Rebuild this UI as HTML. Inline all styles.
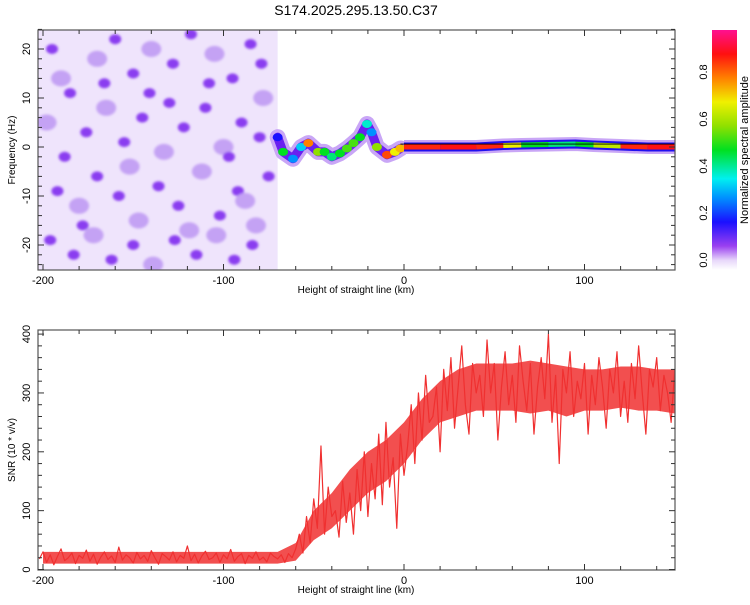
<!DOCTYPE html>
<html><head><meta charset="utf-8"><style>
body{margin:0;background:#fff;}
svg{font-family:"Liberation Sans",sans-serif;}
</style></head><body>
<svg id="chart" width="750" height="600" xmlns="http://www.w3.org/2000/svg">
<defs>
<linearGradient id="cbar" x1="0" y1="1" x2="0" y2="0">
<stop offset="0" stop-color="#ffffff"/><stop offset="0.04" stop-color="#e8d8fa"/><stop offset="0.1" stop-color="#9a40f0"/>
<stop offset="0.2" stop-color="#1a10ff"/><stop offset="0.3" stop-color="#0090ff"/><stop offset="0.38" stop-color="#00f0f0"/>
<stop offset="0.5" stop-color="#00e020"/><stop offset="0.6" stop-color="#90e000"/><stop offset="0.7" stop-color="#f0f000"/>
<stop offset="0.8" stop-color="#ff8000"/><stop offset="0.9" stop-color="#ff1010"/><stop offset="1" stop-color="#ff1090"/>
</linearGradient>
<clipPath id="clipTop"><rect x="38" y="30" width="637" height="240"/></clipPath>
<clipPath id="clipBot"><rect x="38" y="330" width="637" height="240"/></clipPath>
<filter id="blur" x="-20%" y="-20%" width="140%" height="140%"><feGaussianBlur stdDeviation="1.2"/></filter>
</defs>
<text x="356" y="15" text-anchor="middle" font-size="14">S174.2025.295.13.50.C37</text>
<g id="top"></g>
<g id="bot"></g>
<g id="cb">
<rect x="712" y="30" width="25" height="240" fill="url(#cbar)"/>
<text transform="translate(748,150) rotate(-90)" text-anchor="middle" font-size="11">Normalized spectral amplitude</text>
</g>
</svg>
<script>
// ---------- data ----------
const xTicks = [-200, -100, 0, 100];
const freqTicks = [-20, -10, 0, 10, 20];
const snrTicks = [0, 100, 200, 300, 400];
const cbTicks = [0.0, 0.2, 0.4, 0.6, 0.8];
const noiseH = [-195,-185,-170,-160,-150,-140,-128,-118,-105,-95,-85,-78,-198,-188,-176,-165,-155,-145,-133,-122,-110,-100,-90,-80,-192,-180,-170,-158,-147,-136,-125,-112,-102,-92,-82,-75,-196,-183,-172,-162,-150,-139,-127,-115,-104,-94,-84,-190,-178,-166,-152,-141,-130,-119,-108,-97,-88,-79];
const noiseF = [20,11,18,22,15,20,17,23,19,14,21,10,5,-2,3,8,1,6,-1,4,8,0,5,2,-9,-12,-6,-10,-15,-8,-12,-5,-14,-9,-16,-6,-19,-22,-18,-23,-20,-24,-19,-22,-18,-23,-20,14,-16,13,-4,11,9,-17,13,-2,-11,17];
const noiseA = [1,1,.5,1,1,.5,1,1,.5,1,1,.5,.5,1,1,.5,1,1,.5,1,1,.5,1,1,1,.5,1,1,.5,1,1,.5,1,1,.5,1,1,1,.5,1,1,.5,1,1,.5,1,1,.5,1,1,.5,1,1,.5,1,1,.5,1];
const ridgeH = [-70,-67,-61.5,-57,-53,-47.6,-44,-40,-35.5,-31.6,-28,-24.4,-20.5,-18,-15,-9.4,-5,-2];
const ridgeF = [2,-1,-2.4,0,0.8,-1,-1,-2,-1.3,-0.3,0.8,2,4.7,3,0,-1.6,-1,-0.3];
const ridgeA = [0.2,0.5,0.3,0.35,0.8,0.6,0.5,0.45,0.5,0.55,0.55,0.5,0.4,0.3,0.6,0.85,0.7,0.75];
const bandH = [0,20,40,55,65,80,95,105,120,135,150];
const bandF = [0,0,0,0.3,0.4,0.5,0.6,0.4,0.2,0,0];
const bandA = [0.88,0.9,0.88,0.7,0.5,0.45,0.5,0.65,0.88,0.9,0.9];
const snrStart = -202, snrStep = 2;
const snrValues = [18,30,12,25,8,22,35,15,20,28,10,24,19,33,14,26,9,21,30,17,23,12,38,16,25,20,11,29,18,24,14,32,20,9,27,22,16,30,13,24,19,40,15,26,11,23,31,17,20,28,12,25,18,34,14,22,27,10,24,19,30,16,21,13,28,22,18,25,12,27,
20,35,60,28,90,45,120,70,210,60,140,90,
100,55,150,80,130,60,170,100,200,90,180,120,230,110,250,140,190,70,230,160,
210,280,180,300,220,330,250,260,310,200,340,270,360,240,310,380,280,230,350,300,
330,260,390,300,350,220,310,370,280,330,250,380,320,270,350,230,310,360,290,400,250,330,180,340,300,370,260,320,290,350,230,330,280,360,310,240,340,300,370,260,320,250,350,290,380,300,230,340,310,360,270,330,300,250,340];
const envStart = -200, envStep = 10;
const envUpper = [30,30,30,30,30,30,30,30,30,30,30,30,30,30,45,100,130,170,200,220,250,290,320,340,350,350,350,355,350,345,340,340,345,345,340,340];
const envLower = [10,10,10,10,10,10,10,10,10,10,10,10,10,10,15,50,70,100,130,150,180,220,250,260,270,270,270,265,270,260,270,270,275,270,270,265];

// ---------- scales ----------
const L=38,R=675;
const xS = h => 404 + h*1.805;
const fS = f => 147 - f*4.9;
const sS = v => 569.5 - v*0.5885;
const cS = v => 260 - v*235/1.0;
const NS="http://www.w3.org/2000/svg";
function mk(tag, attrs, parent){const e=document.createElementNS(NS,tag);for(const k in attrs)e.setAttribute(k,attrs[k]);parent.appendChild(e);return e;}
function cmap(a){
  const st=[[0,[255,255,255]],[0.04,[232,216,250]],[0.1,[154,64,240]],[0.2,[26,16,255]],[0.3,[0,144,255]],[0.38,[0,240,240]],[0.5,[0,224,32]],[0.6,[144,224,0]],[0.7,[240,240,0]],[0.8,[255,128,0]],[0.9,[255,16,16]],[1,[255,16,144]]];
  for(let i=1;i<st.length;i++){if(a<=st[i][0]){const t=(a-st[i-1][0])/(st[i][0]-st[i-1][0]);const c=st[i-1][1].map((v,j)=>Math.round(v+(st[i][1][j]-v)*t));return `rgb(${c})`;}}
  return 'rgb(255,16,144)';
}
const topG=document.getElementById('top'), botG=document.getElementById('bot');

// ---------- top panel ----------
const gT=mk('g',{'clip-path':'url(#clipTop)'},topG);
const bg=mk('rect',{x:L,y:30,width:xS(-70)-L,height:240,fill:'#efe4fc'},gT);


const blobG=mk('g',{filter:'url(#blur)'},gT);
for(let i=0;i<noiseH.length;i++){
  const b=mk('ellipse',{cx:xS(noiseH[i]),cy:fS(noiseF[i]),rx:noiseA[i]>0.7?6:10,ry:noiseA[i]>0.7?5:8,fill:noiseA[i]>0.7?'#8a3df0':'#c4a2f4'},blobG);
  
  
}
const ridgeG=mk('g',{},gT);
const rp=ridgeH.map((h,i)=>xS(h)+','+fS(ridgeF[i])).join(' ');
mk('polyline',{points:rp,fill:'none',stroke:'#c9a6f6',"stroke-width":16,"stroke-linejoin":"round","stroke-linecap":"round"},ridgeG);
mk('polyline',{points:rp,fill:'none',stroke:'#6a20f0',"stroke-width":9,"stroke-linejoin":"round","stroke-linecap":"round"},ridgeG);
for(let i=0;i<ridgeH.length;i++){
  const e=mk('ellipse',{cx:xS(ridgeH[i]),cy:fS(ridgeF[i]),rx:5,ry:4,fill:cmap(ridgeA[i])},ridgeG);
  
  
}
const bp=bandH.map((h,i)=>xS(h)+','+fS(bandF[i])).join(' ');
mk('polyline',{points:bp,fill:'none',stroke:'#c9a6f6',"stroke-width":14},ridgeG);
mk('polyline',{points:bp,fill:'none',stroke:'#2010f0',"stroke-width":9},ridgeG);
for(let i=0;i<bandH.length-1;i++){
  const s=mk('line',{x1:xS(bandH[i]),y1:fS(bandF[i]),x2:xS(bandH[i+1]),y2:fS(bandF[i+1]),stroke:cmap(bandA[i]),"stroke-width":5},ridgeG);
  
  
}
mk('line',{x1:xS(-2),y1:fS(0.6),x2:R,y2:fS(0.6),stroke:'#000',"stroke-width":0.8},ridgeG);

function frame(parent,y0,name){
  const r=mk('rect',{x:L,y:y0,width:R-L,height:240,fill:'none',stroke:'#555',"stroke-width":1.2},parent);
  
  
  for(let h=-200;h<=150;h+=20){
    const x=xS(h),len=(h%100===0)?6:4;
    mk('line',{x1:x,y1:y0,x2:x,y2:y0+len,stroke:'#333'},parent);
    mk('line',{x1:x,y1:y0+240,x2:x,y2:y0+240-len,stroke:'#333'},parent);
  }
  xTicks.forEach(t=>{
    const tx=mk('text',{x:xS(t),y:y0+254,"text-anchor":"middle","font-size":11},parent);tx.textContent=t;
    
    
  });
  const xt=mk('text',{x:356,y:y0+263,"text-anchor":"middle","font-size":10},parent);xt.textContent='Height of straight line (km)';
  
  
}
frame(topG,30,'spectrogram-frame');
for(let f=-24;f<=24;f+=2){const y=fS(f);const len=(f%10===0)?6:4;
  mk('line',{x1:L,y1:y,x2:L+len,y2:y,stroke:'#333'},topG);mk('line',{x1:R,y1:y,x2:R-len,y2:y,stroke:'#333'},topG);}
freqTicks.forEach(t=>{
  const tx=mk('text',{transform:`translate(30,${fS(t)}) rotate(-90)`,"text-anchor":"middle","font-size":11},topG);tx.textContent=t;
  
  
});
const yt=mk('text',{transform:'translate(15,150) rotate(-90)',"text-anchor":"middle","font-size":10},topG);yt.textContent='Frequency (Hz)';



// ---------- bottom panel ----------
const gB=mk('g',{'clip-path':'url(#clipBot)'},botG);
const up=envUpper.map((v,i)=>xS(envStart+i*envStep)+','+sS(v));
const lo=envLower.map((v,i)=>xS(envStart+i*envStep)+','+sS(v)).reverse();
const env=mk('polygon',{points:up.concat(lo).join(' '),fill:'#f03030',"fill-opacity":0.85},gB);


const sp=snrValues.map((v,i)=>xS(snrStart+i*snrStep)+','+sS(v)).join(' ');
const line=mk('polyline',{points:sp,fill:'none',stroke:'#f03030',"stroke-width":1.2,"stroke-linejoin":"round"},gB);


frame(botG,330,'snr-frame');
for(let v=0;v<=400;v+=20){const y=sS(v);const len=(v%100===0)?6:4;
  mk('line',{x1:L,y1:y,x2:L+len,y2:y,stroke:'#333'},botG);mk('line',{x1:R,y1:y,x2:R-len,y2:y,stroke:'#333'},botG);}
snrTicks.forEach(t=>{
  const tx=mk('text',{transform:`translate(30,${sS(t)}) rotate(-90)`,"text-anchor":"middle","font-size":11},botG);tx.textContent=t;
  
  
});
const yt2=mk('text',{transform:'translate(15,450) rotate(-90)',"text-anchor":"middle","font-size":10},botG);yt2.textContent='SNR (10 * v/v)';



// ---------- colorbar ----------
const cb=document.getElementById('cb');
cbTicks.forEach(t=>{
  const tx=mk('text',{transform:`translate(707,${cS(t)}) rotate(-90)`,"text-anchor":"middle","font-size":11},cb);tx.textContent=t.toFixed(1);
  
  
});
</script>
</body></html>
